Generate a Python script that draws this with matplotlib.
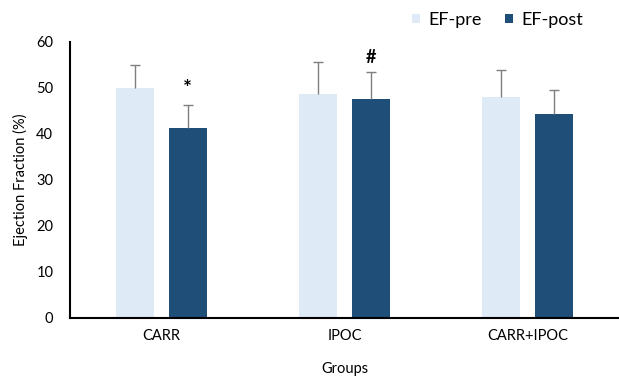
import numpy as np
import matplotlib.pyplot as plt

plt.rcParams['font.family'] = ['Lato', 'DejaVu Sans']

# data
groups = ["CARR", "IPOC", "CARR+IPOC"]
ef_pre = [50.0, 48.7, 48.0]
ef_pre_err = [5.0, 7.0, 5.9]
ef_post = [41.3, 47.6, 44.3]
ef_post_err = [5.0, 5.8, 5.2]
marks = ["*", "#", ""]

pre_color = "#deeaf6"
post_color = "#1f4e79"
err_color = "#7f7f7f"

fig = plt.figure(figsize=(6.19, 3.78), dpi=100)
ax = fig.add_axes([0.113, 0.159, 0.887, 0.730])

x = np.arange(len(groups))
w = 0.207
off = 0.143

ax.bar(x - off, ef_pre, w, color=pre_color, label="EF-pre")
ax.bar(x + off, ef_post, w, color=post_color, label="EF-post")

# upper-only error bars with a cap at the top end
for xs, vals, errs in [(x - off, ef_pre, ef_pre_err), (x + off, ef_post, ef_post_err)]:
    vals = np.array(vals)
    errs = np.array(errs)
    ax.errorbar(xs, vals, yerr=[np.zeros(len(errs)), errs], fmt="none",
                ecolor=err_color, elinewidth=1.0, capsize=0)
    ax.plot(xs, vals + errs, ls="none", marker="_", ms=7, mew=1.0, color=err_color)

for i, m in enumerate(marks):
    if m:
        ax.text(x[i] + off, ef_post[i] + ef_post_err[i] + 1.3, m,
                ha="center", va="bottom", fontsize=15 if m == "*" else 13,
                fontweight="bold")

ax.set_xlim(-0.5, 2.5)
ax.set_ylim(0, 60)
ax.set_yticks(range(0, 61, 10))
ax.set_xticks(x)
ax.set_xticklabels(groups)
ax.tick_params(length=0, labelsize=10.5, pad=8)
ax.tick_params(axis="y", pad=12)

for s in ["top", "right"]:
    ax.spines[s].set_visible(False)
for s in ["left", "bottom"]:
    ax.spines[s].set_linewidth(1.5)
    ax.spines[s].set_color("black")

ax.set_xlabel("Groups", fontsize=10.5, labelpad=14)
ax.set_ylabel("Ejection Fraction (%)", fontsize=10.5, labelpad=6)

fig.legend(loc="center right", bbox_to_anchor=(0.968, 0.947), ncol=2, frameon=False,
           fontsize=13, handlelength=0.45, handleheight=0.45, handletextpad=0.45,
           columnspacing=1.3)

fig.savefig("out.png", dpi=100)
